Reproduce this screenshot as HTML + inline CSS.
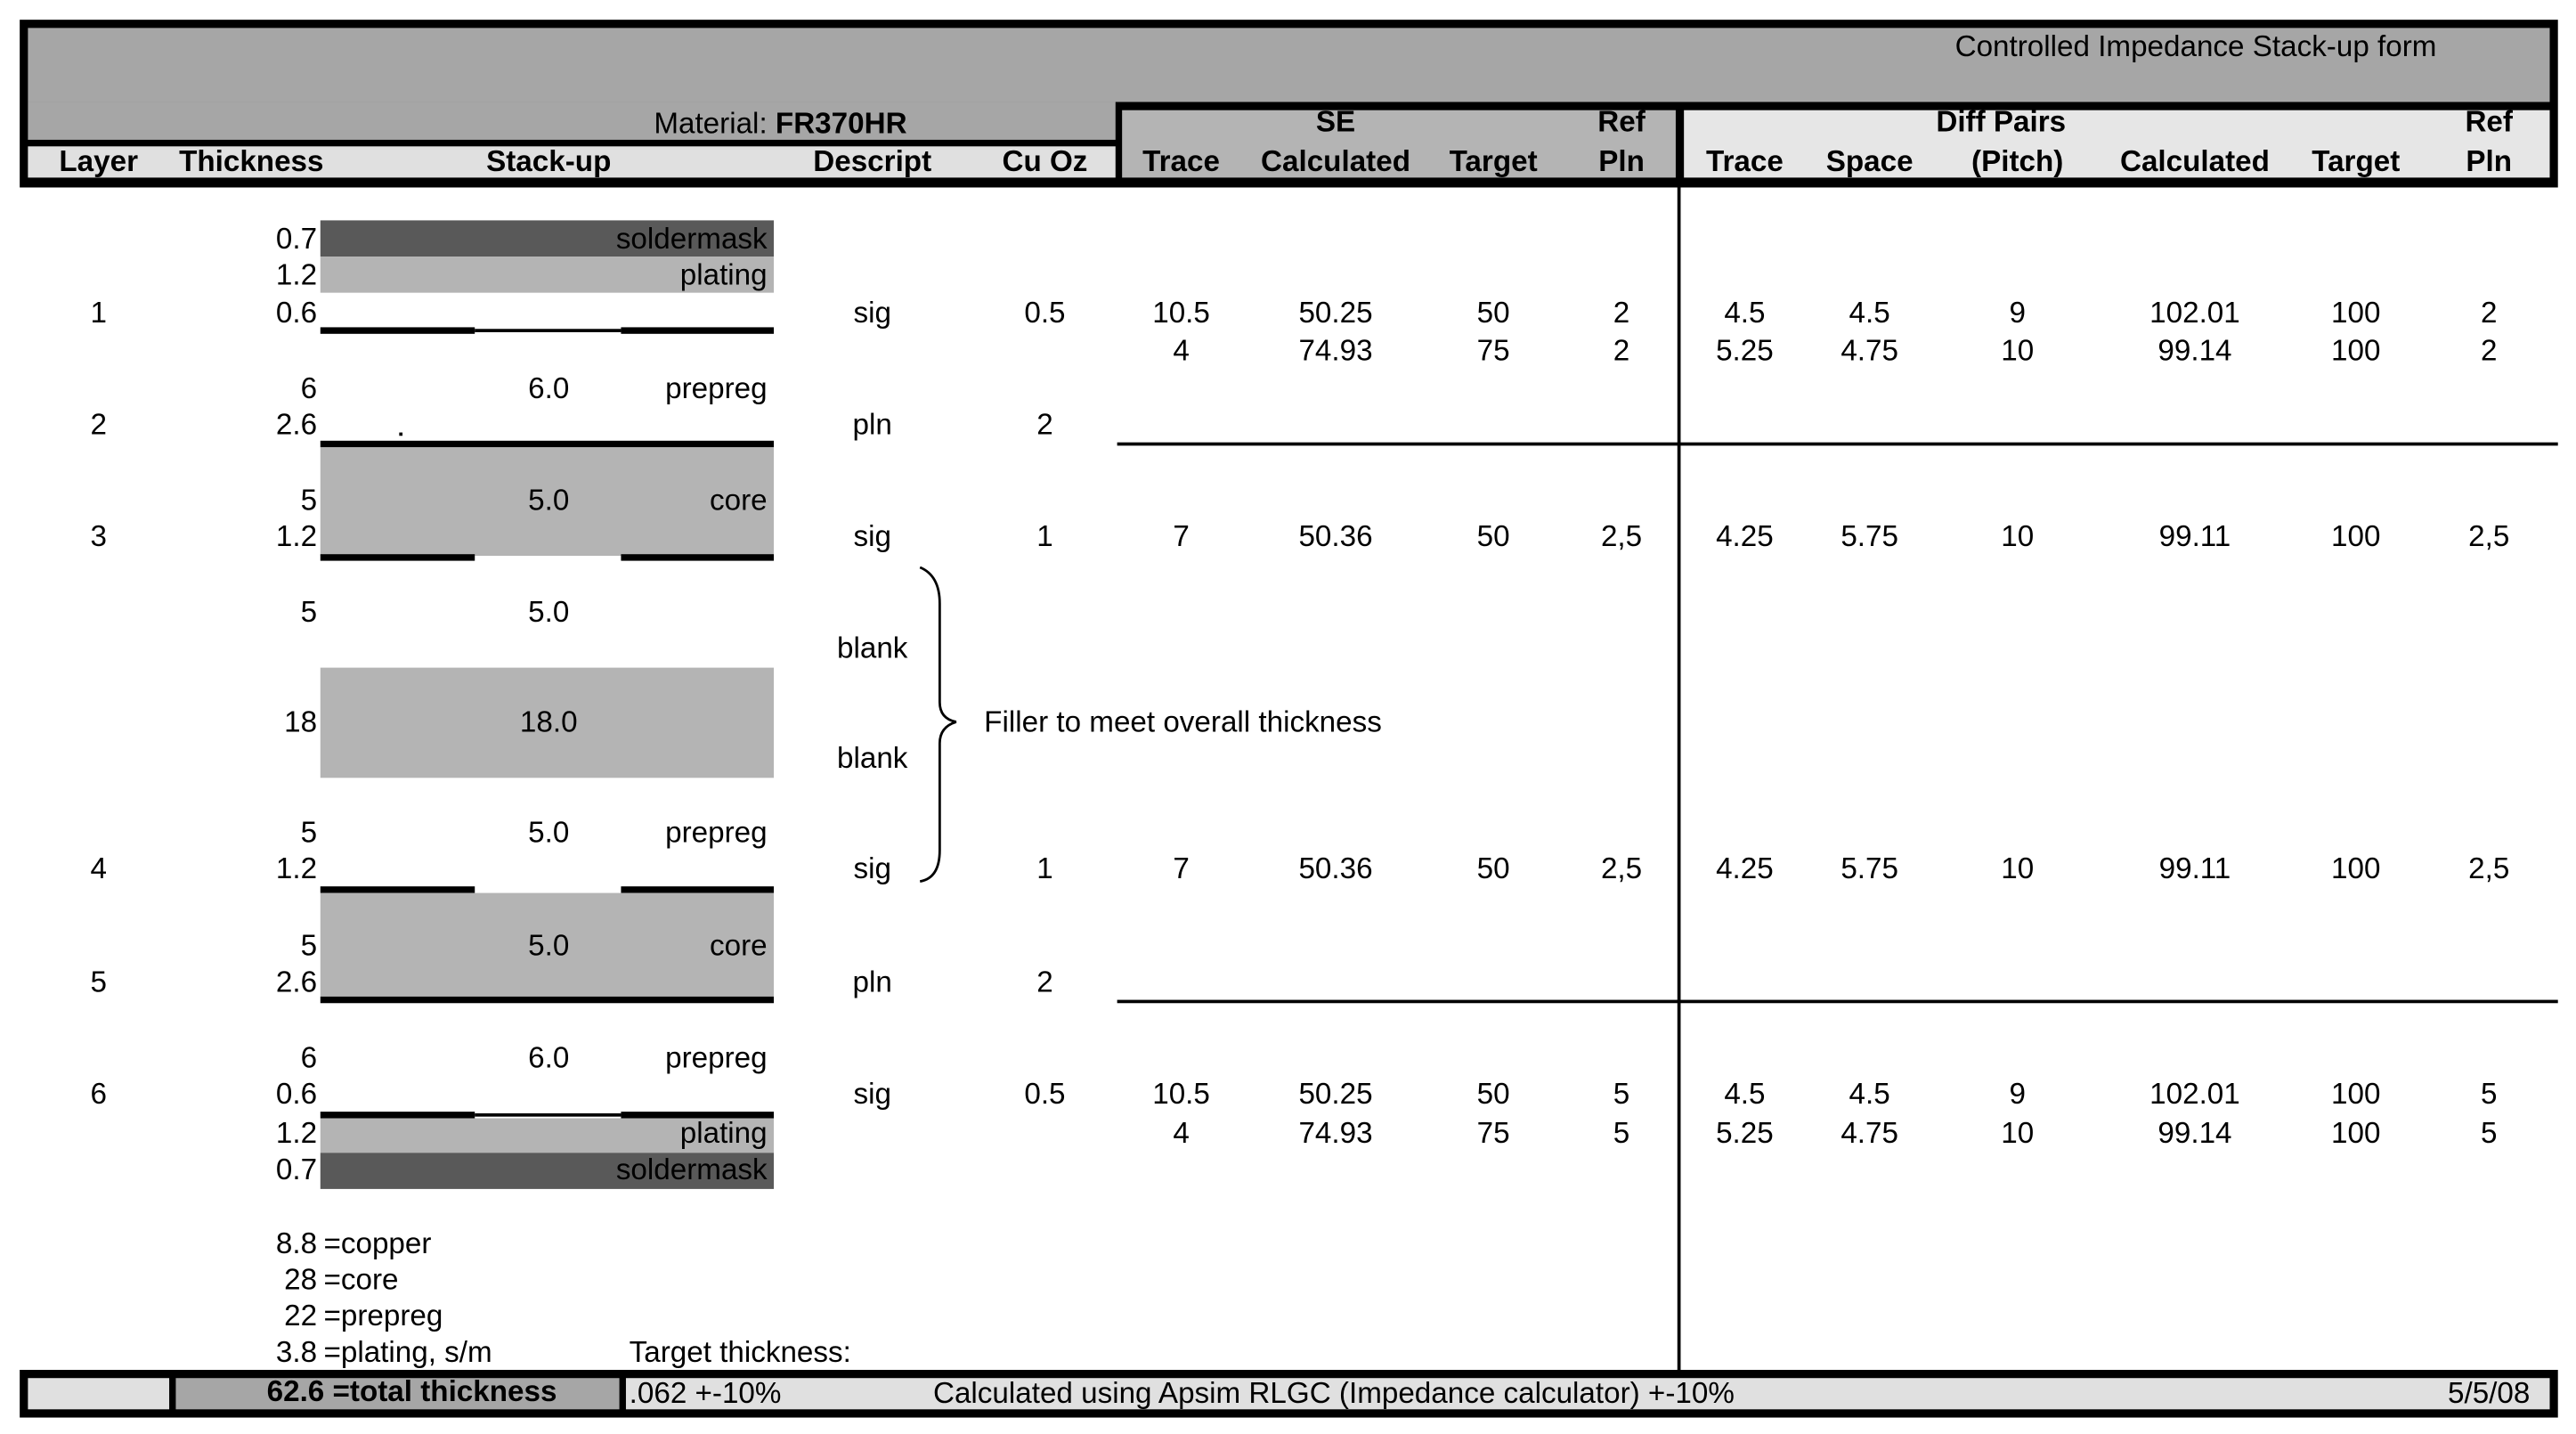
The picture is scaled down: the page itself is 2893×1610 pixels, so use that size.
<!DOCTYPE html>
<html><head><meta charset="utf-8"><style>
html,body{margin:0;padding:0;background:#fff;}
body{width:2893px;height:1610px;overflow:hidden;position:relative;}
#w{position:absolute;left:0;top:0;width:1568px;height:872px;transform-origin:0 0;transform:scale(1.84503,1.84633);font-family:"Liberation Sans",Arial,sans-serif;font-size:18px;color:#000;}
#w div{position:absolute;}
.t{white-space:nowrap;line-height:22px;height:22px;}
.c{transform:translateX(-50%);}
.b{font-weight:bold;}
</style></head><body><div id="w">
<!-- header frame -->
<div style="left:12px;top:12px;width:1545px;height:102px;background:#000"></div>
<div style="left:17px;top:17px;width:1535px;height:45px;background:#a6a6a6"></div>
<div style="left:17px;top:62px;width:662px;height:23px;background:#a6a6a6"></div>
<div style="left:17px;top:89px;width:662px;height:19px;background:#e0e0e0"></div>
<div style="left:683px;top:67px;width:337px;height:41px;background:#b4b4b4"></div>
<div style="left:1025px;top:67px;width:527px;height:41px;background:#e6e6e6"></div>
<div class="t" style="left:1190px;top:17px">Controlled Impedance Stack-up form</div>
<div class="t" style="left:398px;top:64px">Material: <b>FR370HR</b></div>
<div class="t b c" style="left:813px;top:63px">SE</div>
<div class="t b c" style="left:987px;top:63px">Ref</div>
<div class="t b c" style="left:1218px;top:63px">Diff Pairs</div>
<div class="t b c" style="left:1515px;top:63px">Ref</div>
<div class="t b c" style="left:60px;top:87px">Layer</div>
<div class="t b c" style="left:153px;top:87px">Thickness</div>
<div class="t b c" style="left:334px;top:87px">Stack-up</div>
<div class="t b c" style="left:531px;top:87px">Descript</div>
<div class="t b c" style="left:636px;top:87px">Cu Oz</div>
<div class="t b c" style="left:719px;top:87px">Trace</div>
<div class="t b c" style="left:813px;top:87px">Calculated</div>
<div class="t b c" style="left:909px;top:87px">Target</div>
<div class="t b c" style="left:987px;top:87px">Pln</div>
<div class="t b c" style="left:1062px;top:87px">Trace</div>
<div class="t b c" style="left:1138px;top:87px">Space</div>
<div class="t b c" style="left:1228px;top:87px">(Pitch)</div>
<div class="t b c" style="left:1336px;top:87px">Calculated</div>
<div class="t b c" style="left:1434px;top:87px">Target</div>
<div class="t b c" style="left:1515px;top:87px">Pln</div>
<!-- grid lines -->
<div style="left:1021px;top:113px;width:2px;height:722px;background:#000"></div>
<div style="left:680px;top:269px;width:877px;height:2px;background:#000"></div>
<div style="left:680px;top:608px;width:877px;height:2px;background:#000"></div>
<!-- stack graphics -->
<div style="left:195px;top:134px;width:276px;height:22px;background:#595959"></div>
<div style="left:195px;top:156px;width:276px;height:22px;background:#b4b4b4"></div>
<div style="left:195px;top:199px;width:94px;height:4px;background:#000"></div>
<div style="left:289px;top:200px;width:89px;height:2px;background:#000"></div>
<div style="left:378px;top:199px;width:93px;height:4px;background:#000"></div>
<div style="left:195px;top:268px;width:276px;height:4px;background:#000"></div>
<div style="left:195px;top:272px;width:276px;height:66px;background:#b4b4b4"></div>
<div style="left:195px;top:337px;width:94px;height:4px;background:#000"></div>
<div style="left:378px;top:337px;width:93px;height:4px;background:#000"></div>
<div style="left:195px;top:406px;width:276px;height:67px;background:#b4b4b4"></div>
<div style="left:195px;top:539px;width:94px;height:4px;background:#000"></div>
<div style="left:378px;top:539px;width:93px;height:4px;background:#000"></div>
<div style="left:195px;top:543px;width:276px;height:63px;background:#b4b4b4"></div>
<div style="left:195px;top:606px;width:276px;height:4px;background:#000"></div>
<div style="left:195px;top:676px;width:94px;height:4px;background:#000"></div>
<div style="left:289px;top:677px;width:89px;height:2px;background:#000"></div>
<div style="left:378px;top:676px;width:93px;height:4px;background:#000"></div>
<div style="left:195px;top:680px;width:276px;height:21px;background:#b4b4b4"></div>
<div style="left:195px;top:701px;width:276px;height:22px;background:#595959"></div>
<div style="left:243px;top:263px;width:2px;height:2px;background:#000"></div>
<!-- brace -->
<svg style="position:absolute;left:555px;top:342px" width="35" height="200" viewBox="0 0 35 200"><path d="M5 3 Q17 8 17 25 L17 85 Q17 95 27 97 Q17 100 17 110 L17 175 Q17 192 5 194" fill="none" stroke="#000" stroke-width="1.5"/></svg>
<div class="t" style="left:599px;top:428px">Filler to meet overall thickness</div>
<!-- thickness column (right aligned at 193) -->
<div class="t" style="right:1375px;top:134px">0.7</div>
<div class="t" style="right:1375px;top:156px">1.2</div>
<div class="t" style="right:1375px;top:179px">0.6</div>
<div class="t" style="right:1375px;top:225px">6</div>
<div class="t" style="right:1375px;top:247px">2.6</div>
<div class="t" style="right:1375px;top:293px">5</div>
<div class="t" style="right:1375px;top:315px">1.2</div>
<div class="t" style="right:1375px;top:361px">5</div>
<div class="t" style="right:1375px;top:428px">18</div>
<div class="t" style="right:1375px;top:495px">5</div>
<div class="t" style="right:1375px;top:517px">1.2</div>
<div class="t" style="right:1375px;top:564px">5</div>
<div class="t" style="right:1375px;top:586px">2.6</div>
<div class="t" style="right:1375px;top:632px">6</div>
<div class="t" style="right:1375px;top:654px">0.6</div>
<div class="t" style="right:1375px;top:678px">1.2</div>
<div class="t" style="right:1375px;top:700px">0.7</div>
<div class="t" style="right:1375px;top:745px">8.8</div>
<div class="t" style="right:1375px;top:767px">28</div>
<div class="t" style="right:1375px;top:789px">22</div>
<div class="t" style="right:1375px;top:811px">3.8</div>
<div class="t" style="left:197px;top:745px">=copper</div>
<div class="t" style="left:197px;top:767px">=core</div>
<div class="t" style="left:197px;top:789px">=prepreg</div>
<div class="t" style="left:197px;top:811px">=plating, s/m</div>
<div class="t" style="left:383px;top:811px">Target thickness:</div>
<!-- stack labels -->
<div class="t" style="right:1101px;top:134px">soldermask</div>
<div class="t" style="right:1101px;top:156px">plating</div>
<div class="t" style="right:1101px;top:225px">prepreg</div>
<div class="t" style="right:1101px;top:293px">core</div>
<div class="t" style="right:1101px;top:495px">prepreg</div>
<div class="t" style="right:1101px;top:564px">core</div>
<div class="t" style="right:1101px;top:632px">prepreg</div>
<div class="t" style="right:1101px;top:678px">plating</div>
<div class="t" style="right:1101px;top:700px">soldermask</div>
<div class="t c" style="left:334px;top:225px">6.0</div>
<div class="t c" style="left:334px;top:293px">5.0</div>
<div class="t c" style="left:334px;top:361px">5.0</div>
<div class="t c" style="left:334px;top:428px">18.0</div>
<div class="t c" style="left:334px;top:495px">5.0</div>
<div class="t c" style="left:334px;top:564px">5.0</div>
<div class="t c" style="left:334px;top:632px">6.0</div>
<!-- layer / descript / cu -->
<div class="t c" style="left:60px;top:179px">1</div>
<div class="t c" style="left:60px;top:247px">2</div>
<div class="t c" style="left:60px;top:315px">3</div>
<div class="t c" style="left:60px;top:517px">4</div>
<div class="t c" style="left:60px;top:586px">5</div>
<div class="t c" style="left:60px;top:654px">6</div>
<div class="t c" style="left:531px;top:179px">sig</div>
<div class="t c" style="left:531px;top:247px">pln</div>
<div class="t c" style="left:531px;top:315px">sig</div>
<div class="t c" style="left:531px;top:383px">blank</div>
<div class="t c" style="left:531px;top:450px">blank</div>
<div class="t c" style="left:531px;top:517px">sig</div>
<div class="t c" style="left:531px;top:586px">pln</div>
<div class="t c" style="left:531px;top:654px">sig</div>
<div class="t c" style="left:636px;top:179px">0.5</div>
<div class="t c" style="left:636px;top:247px">2</div>
<div class="t c" style="left:636px;top:315px">1</div>
<div class="t c" style="left:636px;top:517px">1</div>
<div class="t c" style="left:636px;top:586px">2</div>
<div class="t c" style="left:636px;top:654px">0.5</div>
<!-- data rows -->
<div class="t c" style="left:719px;top:179px">10.5</div><div class="t c" style="left:813px;top:179px">50.25</div><div class="t c" style="left:909px;top:179px">50</div><div class="t c" style="left:987px;top:179px">2</div><div class="t c" style="left:1062px;top:179px">4.5</div><div class="t c" style="left:1138px;top:179px">4.5</div><div class="t c" style="left:1228px;top:179px">9</div><div class="t c" style="left:1336px;top:179px">102.01</div><div class="t c" style="left:1434px;top:179px">100</div><div class="t c" style="left:1515px;top:179px">2</div>
<div class="t c" style="left:719px;top:202px">4</div><div class="t c" style="left:813px;top:202px">74.93</div><div class="t c" style="left:909px;top:202px">75</div><div class="t c" style="left:987px;top:202px">2</div><div class="t c" style="left:1062px;top:202px">5.25</div><div class="t c" style="left:1138px;top:202px">4.75</div><div class="t c" style="left:1228px;top:202px">10</div><div class="t c" style="left:1336px;top:202px">99.14</div><div class="t c" style="left:1434px;top:202px">100</div><div class="t c" style="left:1515px;top:202px">2</div>
<div class="t c" style="left:719px;top:315px">7</div><div class="t c" style="left:813px;top:315px">50.36</div><div class="t c" style="left:909px;top:315px">50</div><div class="t c" style="left:987px;top:315px">2,5</div><div class="t c" style="left:1062px;top:315px">4.25</div><div class="t c" style="left:1138px;top:315px">5.75</div><div class="t c" style="left:1228px;top:315px">10</div><div class="t c" style="left:1336px;top:315px">99.11</div><div class="t c" style="left:1434px;top:315px">100</div><div class="t c" style="left:1515px;top:315px">2,5</div>
<div class="t c" style="left:719px;top:517px">7</div><div class="t c" style="left:813px;top:517px">50.36</div><div class="t c" style="left:909px;top:517px">50</div><div class="t c" style="left:987px;top:517px">2,5</div><div class="t c" style="left:1062px;top:517px">4.25</div><div class="t c" style="left:1138px;top:517px">5.75</div><div class="t c" style="left:1228px;top:517px">10</div><div class="t c" style="left:1336px;top:517px">99.11</div><div class="t c" style="left:1434px;top:517px">100</div><div class="t c" style="left:1515px;top:517px">2,5</div>
<div class="t c" style="left:719px;top:654px">10.5</div><div class="t c" style="left:813px;top:654px">50.25</div><div class="t c" style="left:909px;top:654px">50</div><div class="t c" style="left:987px;top:654px">5</div><div class="t c" style="left:1062px;top:654px">4.5</div><div class="t c" style="left:1138px;top:654px">4.5</div><div class="t c" style="left:1228px;top:654px">9</div><div class="t c" style="left:1336px;top:654px">102.01</div><div class="t c" style="left:1434px;top:654px">100</div><div class="t c" style="left:1515px;top:654px">5</div>
<div class="t c" style="left:719px;top:678px">4</div><div class="t c" style="left:813px;top:678px">74.93</div><div class="t c" style="left:909px;top:678px">75</div><div class="t c" style="left:987px;top:678px">5</div><div class="t c" style="left:1062px;top:678px">5.25</div><div class="t c" style="left:1138px;top:678px">4.75</div><div class="t c" style="left:1228px;top:678px">10</div><div class="t c" style="left:1336px;top:678px">99.14</div><div class="t c" style="left:1434px;top:678px">100</div><div class="t c" style="left:1515px;top:678px">5</div>
<!-- footer -->
<div style="left:12px;top:833px;width:1545px;height:29px;background:#000"></div>
<div style="left:17px;top:838px;width:86px;height:19px;background:#e0e0e0"></div>
<div style="left:107px;top:838px;width:270px;height:19px;background:#a6a6a6"></div>
<div style="left:381px;top:838px;width:1171px;height:19px;background:#e0e0e0"></div>
<div class="t b" style="right:1229px;top:835px">62.6 =total thickness</div>
<div class="t" style="left:383px;top:836px">.062 +-10%</div>
<div class="t" style="left:568px;top:836px">Calculated using Apsim RLGC (Impedance calculator) +-10%</div>
<div class="t" style="right:28px;top:836px">5/5/08</div>
</div></body></html>
